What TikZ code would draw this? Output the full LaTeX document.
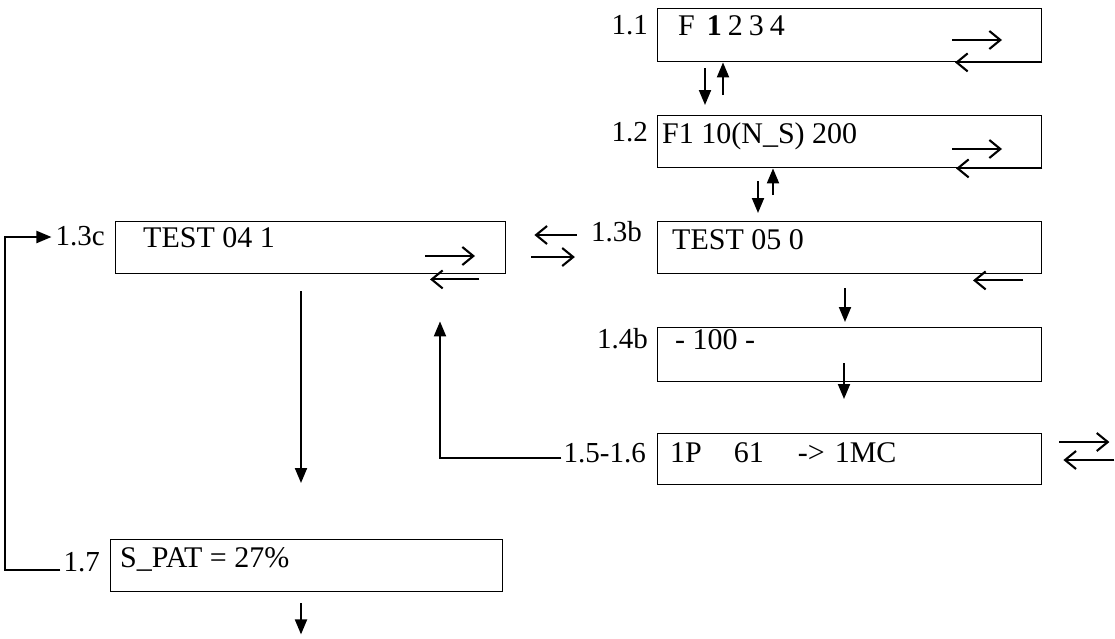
\documentclass[tikz,border=0pt]{standalone}
\usepackage{fontspec}
\setmainfont{Liberation Serif}
\usetikzlibrary{arrows.meta,calc}
\begin{document}
\begin{tikzpicture}[x=1pt,y=-1pt,
  box/.style={draw, line width=1.4pt, minimum width=384pt, minimum height=53pt, anchor=north west, inner sep=0pt},
  txt/.style={anchor=base west, inner sep=0pt, font=\fontsize{30}{34}\selectfont},
  lbl/.style={anchor=base east, inner sep=0pt, font=\fontsize{29}{33}\selectfont},
  conn/.style={line width=2pt, -{Triangle[length=15pt,width=12pt]}},
  dbl/.style={line width=2.1pt, -{Straight Barb[length=11pt,width=18pt]}}]
\useasboundingbox (0,0) rectangle (1115,638);
% boxes
\node[box, minimum height=53pt] (b11) at (657,8) {};
\node[box, minimum height=52pt] (b12) at (657,115) {};
\node[box, minimum height=52pt] (b13b) at (657,221) {};
\node[box, minimum height=54pt] (b14b) at (657,327) {};
\node[box, minimum height=51pt] (b15) at (657,433) {};
\node[box, minimum width=390pt, minimum height=52pt] (b13c) at (115,221) {};
\node[box, minimum width=392pt, minimum height=52pt] (b17) at (110,539) {};
% texts
\node[txt] (t11) at (678,35) {F\hspace{12pt}{\bfseries 1}\hspace{6pt}2\hspace{6pt}3\hspace{6pt}4};
\node[txt] (t12) at (662,143) {F1 10(N\_S) 200};
\node[txt] (t13b) at (672,249) {TEST 05 0};
\node[txt] (t13c) at (143,247) {TEST 04 1};
\node[txt] (t14b) at (675,349) {- 100 -};
\node[txt] (t15) at (670,462) {1P\hspace{32pt}61\hspace{34pt}->\hspace{10pt}1MC};
\node[txt] (t17) at (120,567) {S\_PAT = 27\%};
% labels
\node[lbl] (l11) at (648,34) {1.1};
\node[lbl] (l12) at (648,141) {1.2};
\node[lbl] (l13b) at (642,241) {1.3b};
\node[lbl] (l13c) at (105,245) {1.3c};
\node[lbl] (l14b) at (648,348) {1.4b};
\node[lbl] (l15) at (646,462) {1.5-1.6};
\node[lbl] (l17) at (100,571) {1.7};
% vertical connectors
\draw[conn] ($(b11.south west)+(48,6)$) -- ($(b12.north west)+(48,-10)$);
\draw[conn] ($(b12.north west)+(66,-20)$) -- ($(b11.south west)+(66,0)$);
\draw[conn] ($(b12.south west)+(101,13)$) -- ($(b13b.north west)+(101,-8)$);
\draw[conn] ($(b13b.north west)+(116,-26)$) -- ($(b12.south west)+(116,0)$);
\draw[conn] ($(b13b.south west)+(188,14)$) -- ($(b14b.north west)+(188,-5)$);
\draw[conn] ($(b14b.south west)+(187,-19)$) -- ($(b15.north west)+(187,-34)$);
\draw[conn] ($(l15.base west)+(-2,-4)$) -| ($(b13c.south west)+(325,47)$);
\draw[conn] ($(l17.base west)+(-3,-1)$) -| ($(l13c.base west)+(-50,-8)$) -- ($(l13c.base west)+(-4,-8)$);
\draw[conn] ($(b13c.south west)+(186,17)$) -- ($(b17.north west)+(191,-56)$);
\draw[conn] ($(b17.south west)+(191,11)$) -- ($(b17.south west)+(191,42)$);
% double arrows
\draw[dbl] ($(b11.north west)+(295,32)$) -- ($(b11.north west)+(345,32)$);
\draw[dbl] (b11.south east) -- ($(b11.south west)+(298,0)$);
\draw[dbl] ($(b12.north west)+(295,34)$) -- ($(b12.north west)+(345,34)$);
\draw[dbl] (b12.south east) -- ($(b12.south west)+(299,0)$);
\draw[dbl] ($(b13b.south west)+(366,6)$) -- ($(b13b.south west)+(316,6)$);
\draw[dbl] ($(b13c.north west)+(310,35)$) -- ($(b13c.north west)+(360,35)$);
\draw[dbl] ($(b13c.south west)+(364,5)$) -- ($(b13c.south west)+(315,5)$);
\draw[dbl] ($(l13b.base west)+(-14,-6)$) -- ($(b13c.north east)+(28,14)$);
\draw[dbl] ($(b13c.north east)+(25,36)$) -- ($(l13b.base west)+(-16,16)$);
\draw[dbl] ($(b15.north east)+(17,9)$) -- ($(b15.north east)+(67,9)$);
\draw[dbl] ($(b15.north east)+(72,27)$) -- ($(b15.north east)+(21,27)$);
\end{tikzpicture}
\end{document}
